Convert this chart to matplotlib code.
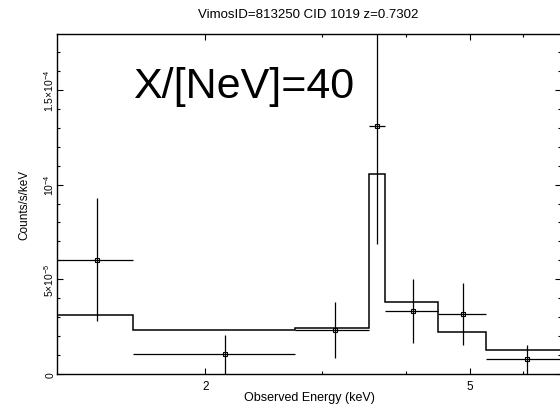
import numpy as np
import matplotlib
matplotlib.use("Agg")
import matplotlib.pyplot as plt
from matplotlib.ticker import FixedLocator, FixedFormatter, NullFormatter

plt.rcParams['font.family'] = ['Liberation Sans', 'DejaVu Sans']
plt.rcParams['mathtext.fontset'] = 'custom'
plt.rcParams['mathtext.rm'] = 'Liberation Sans'
plt.rcParams['mathtext.it'] = 'Liberation Sans:italic'

# spectrum bins (keV) and folded model
edges = [1.15, 1.557, 2.73, 3.528, 3.729, 4.48, 5.28, 7.0]
model = [3.1e-5, 2.34e-5, 2.44e-5, 1.055e-4, 3.78e-5, 2.2e-5, 1.27e-5]

# data points
energy = [1.377, 2.144, 3.13, 3.627, 4.107, 4.88, 6.09]
counts = [6.0e-5, 1.04e-5, 2.32e-5, 1.309e-4, 3.31e-5, 3.15e-5, 0.79e-5]
c_hi = [9.29e-5, 2.06e-5, 3.82e-5, 1.95e-4, 5.01e-5, 4.79e-5, 1.53e-5]
c_lo = [2.78e-5, -0.5e-5, 0.86e-5, 6.86e-5, 1.62e-5, 1.53e-5, -0.3e-5]

yticks = [0, 5e-5, 1e-4, 1.5e-4]
ylabels = ['0', r'$5{\times}10^{-5}$', r'$10^{-4}$', r'$1.5{\times}10^{-4}$']

fig = plt.figure(figsize=(5.6, 4.06), dpi=100)
ax = fig.add_axes([57/560, 31/406, 504/560, 340/406])

e = np.array(energy)
lo_edge = np.array(edges[:-1])
hi_edge = np.array(edges[1:])
c = np.array(counts)
ax.errorbar(e, c, xerr=[e - lo_edge, hi_edge - e],
            yerr=[c - np.array(c_lo), np.array(c_hi) - c],
            fmt='s', ms=3.5, mfc='none', mec='k', mew=0.8,
            ecolor='k', elinewidth=0.9, capsize=0)
ax.stairs(model, edges, color='k', lw=1.1)

ax.set_xscale('log')
ax.set_xlim(1.197, 6.85)
ax.set_ylim(0, 1.795e-4)
ax.xaxis.set_major_locator(FixedLocator([2, 5]))
ax.xaxis.set_major_formatter(FixedFormatter(['2', '5']))
ax.xaxis.set_minor_locator(FixedLocator([3, 4, 6]))
ax.xaxis.set_minor_formatter(NullFormatter())
ax.yaxis.set_major_locator(FixedLocator(yticks))
ax.yaxis.set_major_formatter(FixedFormatter(ylabels))
ax.yaxis.set_minor_locator(FixedLocator(np.arange(0, 1.8e-4, 1e-5)))

ax.tick_params(which='both', direction='in', top=True, right=True, width=0.8)
ax.tick_params(which='major', length=4.5)
ax.tick_params(which='minor', length=2.2)
ax.tick_params(axis='x', labelsize=8.5, pad=4)
ax.tick_params(axis='y', labelsize=7.5, pad=1)
for lab in ax.get_yticklabels():
    lab.set_rotation(90)
    lab.set_va('center')
for s in ax.spines.values():
    s.set_linewidth(1.0)

ax.set_xlabel('Observed Energy (keV)', fontsize=9, labelpad=-0.5)
ax.set_ylabel('Counts/s/keV', fontsize=8.5, labelpad=8)
fig.text(308/560, 1 - 15/406, 'VimosID=813250 CID 1019 z=0.7302', ha='center', va='center', fontsize=9.5)
ax.text(0.151, 0.815, 'X/[NeV]=40', transform=ax.transAxes, fontsize=31, va='baseline', ha='left')

fig.savefig('out.png', dpi=100)
